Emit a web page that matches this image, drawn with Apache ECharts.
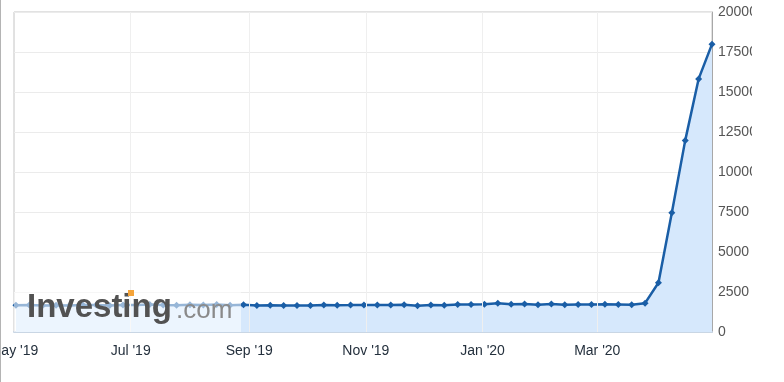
<!DOCTYPE html>
<html>
<head>
<meta charset="utf-8">
<script src="https://cdn.jsdelivr.net/npm/echarts@6/dist/echarts.min.js"></script>
<style>
html,body{margin:0;padding:0;background:#fff;}
#wrap{position:absolute;left:0;top:0;width:751px;height:382px;border-left:1px solid #b4b4b4;}
#chart{width:751px;height:382px;}
</style>
</head>
<body>
<div id="wrap"><div id="chart"></div></div>
<script>
// Release dates (weekly)
const dates = [
 '2019-05-02','2019-05-09','2019-05-16','2019-05-23','2019-05-30',
 '2019-06-06','2019-06-13','2019-06-20','2019-06-27',
 '2019-07-04','2019-07-11','2019-07-18','2019-07-25',
 '2019-08-01','2019-08-08','2019-08-15','2019-08-22','2019-08-29',
 '2019-09-05','2019-09-12','2019-09-19','2019-09-26',
 '2019-10-03','2019-10-10','2019-10-17','2019-10-24','2019-10-31',
 '2019-11-07','2019-11-14','2019-11-21','2019-11-28',
 '2019-12-05','2019-12-12','2019-12-19','2019-12-26',
 '2020-01-02','2020-01-09','2020-01-16','2020-01-23','2020-01-30',
 '2020-02-06','2020-02-13','2020-02-20','2020-02-27',
 '2020-03-05','2020-03-12','2020-03-19','2020-03-26',
 '2020-04-02','2020-04-09','2020-04-16','2020-04-23','2020-04-30'
];
// Values (thousands)
const values = [
 1671,1684,1660,1676,1657,
 1682,1695,1662,1688,
 1686,1723,1686,1676,
 1699,1684,1726,1674,1698,
 1662,1670,1661,1650,
 1651,1684,1679,1682,1690,
 1689,1683,1697,1640,
 1693,1667,1722,1719,
 1728,1803,1731,1747,1703,
 1751,1698,1726,1724,
 1729,1722,1701,1803,
 3080,7455,11976,15819,17992
];
// Axis ticks
const monthTicks = ['2019-05-01','2019-07-01','2019-09-01','2019-11-01','2020-01-01','2020-03-01'];
const monthNames = ['Jan','Feb','Mar','Apr','May','Jun','Jul','Aug','Sep','Oct','Nov','Dec'];
const xMin = '2019-05-01';
const xMax = '2020-04-30';
const yTicks = [0,2500,5000,7500,10000,12500,15000,17500,20000];

const ts = s => { const p = s.split('-'); return Date.UTC(+p[0], +p[1]-1, +p[2]); };
const chart = echarts.init(document.getElementById('chart'), null, {renderer:'canvas'});
const fontFam = 'Arial, "Liberation Sans", sans-serif';
const tickTs = monthTicks.map(ts);

chart.setOption({
  animation: false,
  grid: {left: 13, top: 12, right: 40, bottom: 50, outerBoundsMode: 'none', containLabel: false,
         show: true, borderColor: '#c4c4c4', borderWidth: 1, backgroundColor: 'transparent'},
  xAxis: {
    type: 'value',
    min: ts(xMin), max: ts(xMax),
    axisLine: {show: true, lineStyle: {color: '#c9d6e4', width: 2}},
    axisTick: {show: false, customValues: tickTs},
    axisLabel: {
      customValues: tickTs,
      showMinLabel: true,
      color: '#24303d', fontSize: 14, fontFamily: fontFam, margin: 12,
      formatter: v => { const d = new Date(v); return monthNames[d.getUTCMonth()] + " '" + String(d.getUTCFullYear()).slice(2); }
    },
    splitLine: {show: false}
  },
  yAxis: {
    type: 'value', position: 'right',
    min: yTicks[0], max: yTicks[yTicks.length-1], interval: 2500,
    axisLine: {show: true, lineStyle: {color: '#a8a8a8', width: 1}},
    axisTick: {show: false},
    axisLabel: {color: '#555', fontSize: 14, fontFamily: fontFam, margin: 6, formatter: v => String(v)},
    splitLine: {show: true, lineStyle: {color: '#ebebeb', width: 1}}
  },
  series: [{
    type: 'line',
    data: dates.map((d, i) => [ts(d), values[i]]),
    symbol: 'diamond', symbolSize: 7, showAllSymbol: true,
    lineStyle: {color: '#1a5ea6', width: 2.5},
    itemStyle: {color: '#1a5ea6'},
    areaStyle: {color: '#d6e8fc', opacity: 1},
    markLine: {
      silent: true, symbol: 'none', label: {show: false},
      lineStyle: {color: '#efefef', width: 1, type: 'solid'},
      data: tickTs.slice(1).map(t => ({xAxis: t}))
    },
    z: 3
  }],
  graphic: [
    {type: 'rect', z: 100, shape: {x: 13, y: 292, width: 227, height: 40}, style: {fill: 'rgba(255,255,255,0.55)'}},
    {type: 'text', z: 101, x: 26, y: 308, style: {text: 'Investing', font: 'bold 33px ' + fontFam, fill: '#525252', verticalAlign: 'middle'}},
    {type: 'text', z: 101, x: 175, y: 311, style: {text: '.com', font: '26px ' + fontFam, fill: '#8a8a8a', verticalAlign: 'middle'}},
    {type: 'rect', z: 102, shape: {x: 127, y: 290, width: 6, height: 6}, style: {fill: '#f5a43a'}}
  ]
});
</script>
</body>
</html>
